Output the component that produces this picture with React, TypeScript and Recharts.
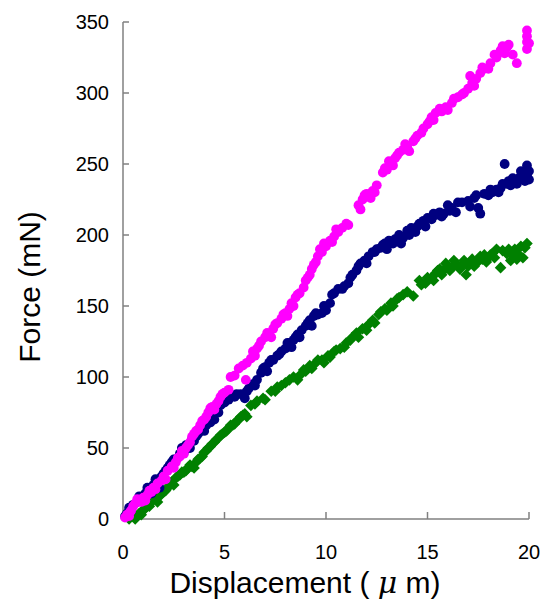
import { ScatterChart, Scatter, XAxis, YAxis, Label } from "recharts";

// Force vs displacement, three specimens
const xTicks = [0, 5, 10, 15, 20];
const yTicks = [0, 50, 100, 150, 200, 250, 300, 350];

const magentaPoints: [number, number][] = [
  [0.1, 1], [0.2, 3], [0.3, 2], [0.4, 6], [0.5, 9], [0.6, 11], [0.8, 13], [0.9, 12],
  [1.0, 15], [1.2, 17], [1.4, 19], [1.5, 22], [1.7, 25], [1.9, 27], [2.0, 30], [2.2, 34],
  [2.4, 37], [2.6, 40], [2.8, 44], [2.9, 48], [3.1, 50], [3.3, 54], [3.4, 58], [3.6, 62],
  [3.8, 66], [3.9, 69], [4.1, 72], [4.2, 75], [4.4, 79], [4.6, 81], [4.8, 86], [5.0, 89],
  [5.2, 91], [5.3, 100], [5.5, 101], [5.7, 106], [5.9, 108], [6.05, 98], [6.1, 110],
  [6.3, 113], [6.5, 115], [6.6, 120], [6.8, 125], [7.0, 128], [7.2, 130], [7.4, 134],
  [7.6, 138], [7.8, 141], [8.0, 145], [8.2, 148], [8.3, 152], [8.5, 156], [8.7, 159],
  [8.9, 163], [9.0, 168], [9.2, 172], [9.3, 176], [9.5, 181], [9.6, 185], [9.8, 188],
  [10.0, 192], [10.2, 196], [10.4, 199], [10.6, 202], [10.8, 205], [11.1, 207],
  [11.6, 221], [11.8, 225], [12.0, 229], [12.3, 231], [12.5, 235], [12.8, 244],
  [13.0, 246], [13.2, 250], [13.4, 254], [13.6, 258], [13.8, 260], [14.0, 262],
  [14.3, 266], [14.5, 270], [14.7, 272], [15.0, 278], [15.2, 283], [15.4, 286],
  [15.7, 287], [15.9, 290], [16.2, 293], [16.5, 297], [16.7, 299], [17.0, 303],
  [17.1, 312], [17.2, 307], [17.4, 310], [17.6, 314], [17.8, 317], [18.1, 321],
  [18.3, 327], [18.6, 330], [18.9, 332], [19.2, 327], [19.4, 321], [19.9, 344],
  [19.9, 340], [20.0, 335], [19.9, 331],
  [0.35, 5], [0.7, 14], [1.1, 13], [1.3, 20], [1.6, 21], [2.1, 28], [2.5, 36], [2.7, 43],
  [3.0, 46], [3.2, 52], [3.5, 60], [3.7, 63], [4.0, 70], [4.3, 78], [4.5, 77], [4.7, 83],
  [4.9, 88], [6.4, 118], [6.7, 122], [7.1, 131], [7.3, 128], [7.5, 137], [7.9, 144],
  [8.1, 143], [8.4, 150], [8.6, 158], [9.1, 170], [9.4, 179], [9.7, 190], [9.9, 194],
  [10.3, 195], [10.5, 204], [11.0, 208], [11.7, 218], [11.9, 228], [12.2, 226],
  [12.4, 230], [12.9, 247], [13.1, 252], [13.3, 249], [13.5, 256], [13.9, 264],
  [14.1, 259], [14.4, 268], [14.8, 275], [15.1, 280], [15.3, 281], [15.6, 289],
  [16.0, 288], [16.3, 296], [16.8, 300], [17.3, 305], [17.7, 318], [18.0, 317],
  [18.4, 325], [18.7, 333], [18.8, 328], [19.0, 334], [19.9, 336],
];

const navyPoints: [number, number][] = [
  [0.1, 2], [0.2, 4], [0.3, 8], [0.5, 10], [0.7, 12], [0.9, 14], [1.1, 18], [1.3, 20],
  [1.5, 24], [1.6, 28], [1.8, 22], [2.0, 32], [2.2, 36], [2.4, 40], [2.6, 42], [2.8, 46],
  [3.0, 47], [3.1, 52], [3.3, 50], [3.5, 55], [3.7, 60], [3.9, 64], [4.1, 66], [4.3, 68],
  [4.5, 70], [4.6, 76], [4.8, 80], [5.0, 82], [5.2, 84], [5.5, 86], [5.8, 88], [6.0, 85],
  [6.2, 92], [6.4, 95], [6.6, 98], [6.8, 103], [7.0, 107], [7.2, 110], [7.4, 112],
  [7.6, 115], [7.8, 118], [8.0, 120], [8.2, 124], [8.4, 126], [8.6, 130], [8.8, 133],
  [9.0, 136], [9.2, 140], [9.4, 143], [9.6, 144], [9.8, 145], [10.0, 147], [10.2, 152],
  [10.3, 158], [10.6, 162], [10.9, 164], [11.1, 166], [11.3, 172], [11.5, 175],
  [11.7, 180], [11.9, 182], [12.1, 185], [12.3, 188], [12.5, 190], [12.7, 191],
  [12.9, 194], [13.1, 196], [13.3, 194], [13.6, 200], [13.8, 198], [14.0, 203],
  [14.2, 205], [14.4, 202], [14.6, 208], [14.8, 210], [15.0, 212], [15.2, 211],
  [15.4, 214], [15.6, 216], [15.8, 215], [16.0, 221], [16.2, 219], [16.4, 216],
  [16.7, 223], [17.0, 224], [17.3, 226], [17.5, 219], [17.6, 215], [17.8, 229],
  [18.0, 228], [18.2, 230], [18.4, 232], [18.6, 233], [18.8, 250], [18.9, 236],
  [19.1, 235], [19.3, 238], [19.5, 240], [19.7, 243], [19.8, 238], [19.9, 249],
  [20.0, 245],
  [0.4, 6], [0.8, 16], [1.2, 22], [1.4, 18], [1.7, 26], [1.9, 30], [2.1, 34], [2.3, 38],
  [2.5, 42], [2.9, 50], [3.4, 56], [3.6, 58], [3.8, 62], [4.0, 62], [4.2, 70], [4.4, 72],
  [4.7, 75], [4.9, 84], [5.3, 86], [5.6, 88], [6.1, 90], [6.5, 94], [6.9, 106],
  [7.1, 104], [7.3, 112], [7.7, 116], [8.1, 124], [8.3, 121], [8.5, 128], [8.7, 128],
  [9.1, 138], [9.3, 136], [9.5, 145], [9.9, 150], [10.4, 159], [10.8, 162], [11.2, 170],
  [11.6, 178], [12.0, 180], [12.4, 188], [12.8, 193], [13.0, 190], [13.4, 197],
  [13.7, 194], [14.1, 200], [14.5, 206], [14.9, 206], [15.3, 215], [15.7, 213],
  [16.1, 217], [16.5, 223], [17.1, 220], [17.4, 228], [18.1, 232], [18.5, 230],
  [18.7, 236], [19.0, 238], [19.2, 240], [19.4, 236], [19.6, 245], [19.9, 242],
  [20.0, 239],
];

const greenPoints: [number, number][] = [
  [0.3, 0], [0.5, 2], [0.8, 4], [1.0, 6], [1.2, 9], [1.4, 12], [1.6, 14], [1.8, 16],
  [2.0, 19], [2.2, 22], [2.4, 26], [2.6, 29], [2.8, 31], [3.0, 33], [3.2, 36], [3.4, 37],
  [3.6, 40], [3.8, 43], [4.0, 47], [4.2, 50], [4.4, 53], [4.6, 56], [4.8, 59], [5.0, 61],
  [5.2, 64], [5.4, 66], [5.6, 69], [5.8, 72], [6.0, 74], [6.3, 80], [6.6, 83], [6.9, 85],
  [7.3, 90], [7.6, 93], [8.0, 96], [8.4, 100], [8.7, 101], [9.0, 104], [9.2, 108],
  [9.5, 110], [9.8, 112], [10.1, 115], [10.4, 118], [10.7, 120], [11.0, 124],
  [11.3, 128], [11.5, 131], [11.8, 134], [12.0, 133], [12.3, 140], [12.6, 144],
  [12.9, 148], [13.2, 152], [13.5, 155], [13.8, 158], [14.3, 157], [14.6, 168],
  [14.9, 166], [15.2, 170], [15.4, 173], [15.6, 176], [15.8, 175], [16.0, 178],
  [16.2, 177], [16.4, 180], [16.6, 176], [16.8, 182], [17.0, 178], [17.2, 183],
  [17.4, 180], [17.6, 185], [17.8, 186], [18.0, 184], [18.2, 187], [18.6, 177],
  [18.7, 189], [19.0, 190], [19.2, 186], [19.4, 183], [19.6, 192], [19.9, 194],
  [0.6, 0], [0.9, 3], [1.1, 8], [1.3, 9], [1.5, 14], [1.7, 12], [1.9, 18], [2.1, 20],
  [2.3, 24], [2.5, 24], [2.7, 30], [2.9, 33], [3.1, 34], [3.3, 38], [3.5, 36], [3.7, 42],
  [3.9, 44], [4.1, 48], [4.3, 51], [4.5, 54], [4.7, 57], [4.9, 60], [5.1, 62], [5.3, 66],
  [5.5, 67], [5.7, 70], [5.9, 73], [6.1, 72], [6.5, 81], [7.0, 84], [7.5, 90], [7.8, 94],
  [8.2, 98], [8.6, 98], [8.9, 105], [9.3, 106], [9.6, 112], [9.9, 110], [10.2, 114],
  [10.5, 119], [10.9, 121], [11.2, 126], [11.6, 128], [12.1, 137], [12.4, 138],
  [12.7, 146], [13.0, 147], [13.3, 150], [13.6, 156], [14.0, 160], [14.7, 165],
  [15.0, 170], [15.3, 168], [15.5, 175], [15.7, 172], [15.9, 180], [16.1, 175],
  [16.3, 182], [16.5, 178], [16.7, 179], [16.9, 172], [17.1, 181], [17.3, 178],
  [17.5, 182], [17.7, 183], [17.9, 181], [18.1, 186], [18.3, 184], [18.4, 190],
  [18.9, 187], [19.1, 182], [19.3, 190], [19.5, 186], [19.7, 184], [19.8, 191],
];

const toRows = (pts: [number, number][]) => pts.map(([x, y]) => ({ x, y }));

const font = "'Liberation Sans', Arial, sans-serif";
const axisColor = "#808080";

const makeDot = (color: string) => (props: any) => (
  <circle cx={props.cx} cy={props.cy} r={4.9} fill={color} />
);

const GreenDiamond = (props: any) => {
  const { cx, cy } = props;
  const s = 5.8;
  return (
    <polygon
      points={`${cx},${cy - s} ${cx + s},${cy} ${cx},${cy + s} ${cx - s},${cy}`}
      fill="#008000"
    />
  );
};

const tickStyle = { fill: "#000", fontSize: 20, fontFamily: font };

export default function App() {
  return (
    <div style={{ position: "absolute", left: 0, top: 0, background: "#fff" }}>
      <ScatterChart
        width={543}
        height={602}
        margin={{ top: 22, right: 14, bottom: 0, left: 0 }}
      >
        <XAxis
          type="number"
          dataKey="x"
          domain={[0, 20]}
          ticks={xTicks}
          interval={0}
          height={83}
          tickSize={-7}
          tickMargin={33}
          tick={tickStyle}
          stroke={axisColor}
          axisLine={{ stroke: axisColor, strokeWidth: 1.5 }}
          tickLine={{ stroke: axisColor, strokeWidth: 1.5 }}
        >
          <Label
            content={() => (
              <text
                x={305}
                y={593}
                textAnchor="middle"
                fontSize={30}
                fontFamily={font}
                fill="#000"
              >
                {"Displacement ( "}
                <tspan fontFamily="'DejaVu Serif', serif" fontStyle="italic">
                  μ
                </tspan>
                {" m)"}
              </text>
            )}
          />
        </XAxis>
        <YAxis
          type="number"
          dataKey="y"
          domain={[0, 350]}
          ticks={yTicks}
          interval={0}
          width={123}
          tickSize={-6}
          tickMargin={20}
          tick={tickStyle}
          stroke={axisColor}
          axisLine={{ stroke: axisColor, strokeWidth: 1.5 }}
          tickLine={{ stroke: axisColor, strokeWidth: 1.5 }}
        >
          <Label
            content={() => (
              <text
                x={29}
                y={287}
                transform="rotate(-90, 29, 287)"
                textAnchor="middle"
                dominantBaseline="central"
                fontSize={30}
                fontFamily={font}
                fill="#000"
              >
                Force (mN)
              </text>
            )}
          />
        </YAxis>
        <Scatter
          name="green"
          data={toRows(greenPoints)}
          shape={GreenDiamond}
          isAnimationActive={false}
        />
        <Scatter
          name="navy"
          data={toRows(navyPoints)}
          shape={makeDot("#000080")}
          isAnimationActive={false}
        />
        <Scatter
          name="magenta"
          data={toRows(magentaPoints)}
          shape={makeDot("#FF00FF")}
          isAnimationActive={false}
        />
      </ScatterChart>
    </div>
  );
}
